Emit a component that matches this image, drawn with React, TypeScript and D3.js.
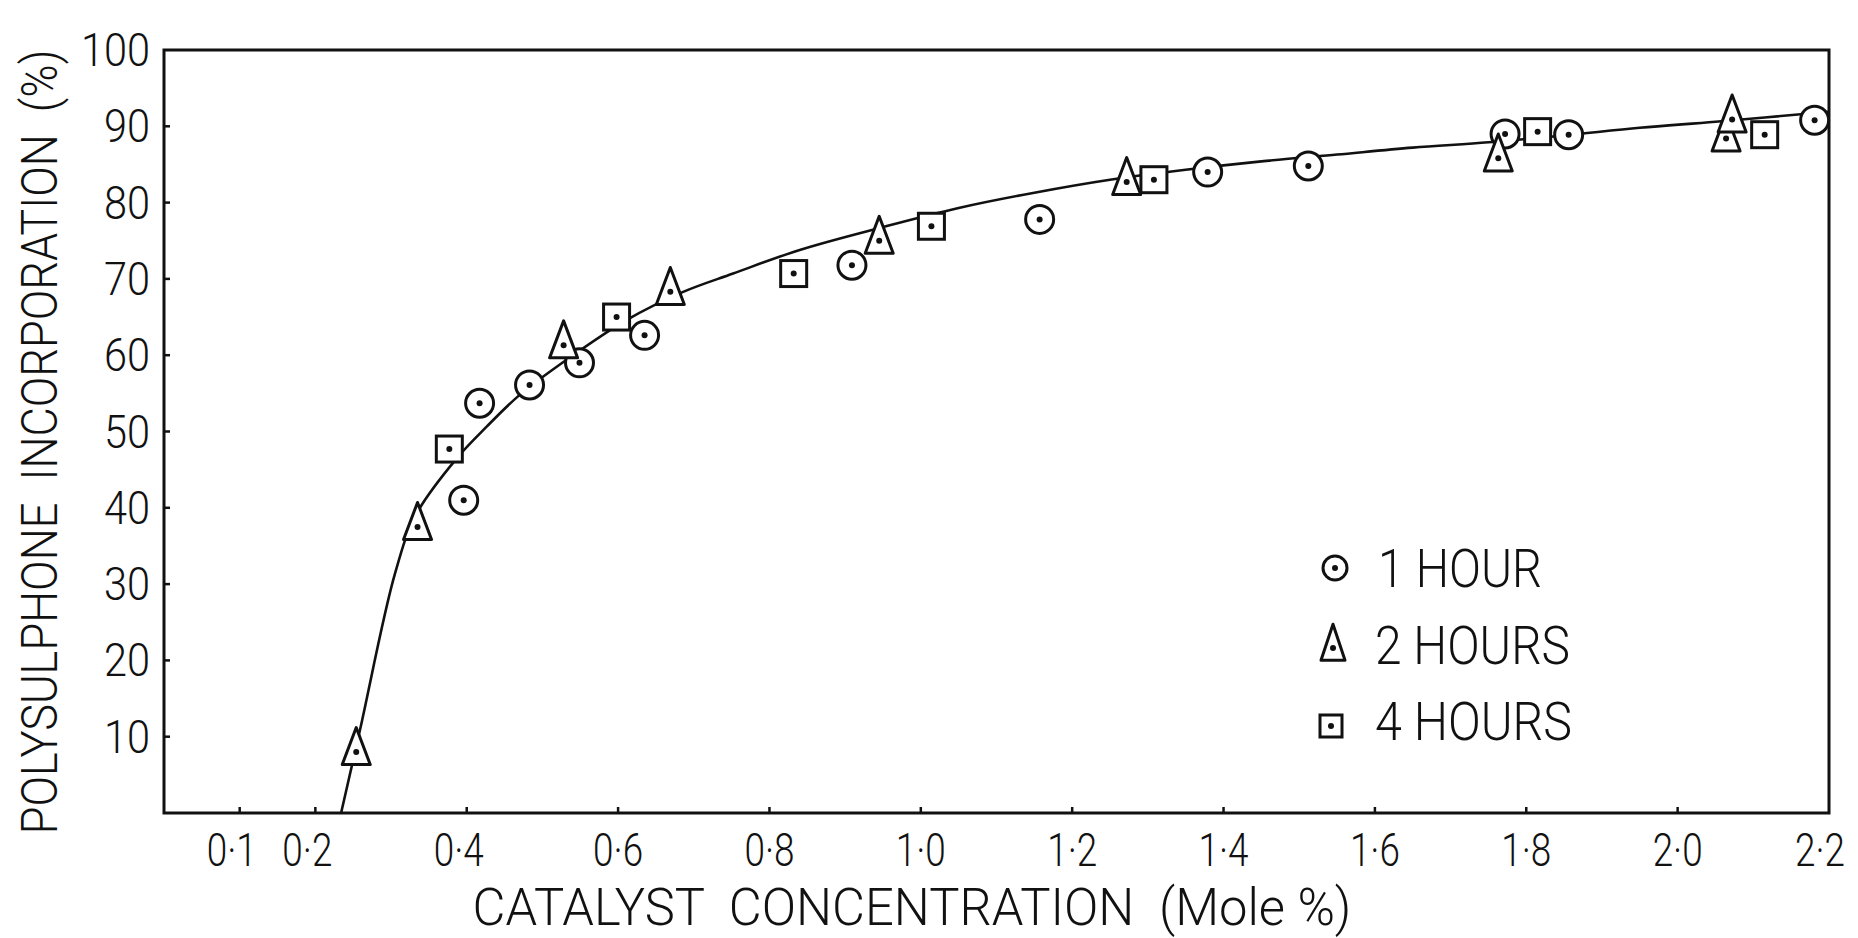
import { useEffect, useRef } from "react";
import * as d3 from "d3";

// 1 hour runs (circles)
const oneHourX = [0.396, 0.417, 0.483, 0.549, 0.635, 0.909, 1.157, 1.379, 1.512, 1.772, 1.856, 2.181];
const oneHourY = [41.0, 53.7, 56.1, 59.0, 62.6, 71.8, 77.8, 84.0, 84.8, 89.0, 88.9, 90.8];

// 2 hour runs (triangles)
const twoHoursX = [0.254, 0.335, 0.528, 0.669, 0.945, 1.272, 1.763, 2.064, 2.072];
const twoHoursY = [8.0, 37.5, 61.3, 68.3, 75.0, 82.7, 85.8, 88.4, 90.9];

// 4 hour runs (squares)
const fourHoursX = [0.377, 0.598, 0.832, 1.014, 1.308, 1.815, 2.115];
const fourHoursY = [47.7, 65.0, 70.7, 76.9, 83.0, 89.3, 88.9];

// hand drawn curve through the points
const curveX = [0.234, 0.259, 0.305, 0.333, 0.387, 0.426, 0.47, 0.532, 0.611, 0.686, 0.752, 0.84, 0.95, 1.05, 1.15, 1.25, 1.35, 1.45, 1.55, 1.65, 1.75, 1.85, 1.95, 2.05, 2.2];
const curveY = [0, 10.9, 31.3, 39.1, 46.5, 50.6, 54.8, 59.4, 64.6, 68.3, 70.7, 73.8, 76.8, 79.3, 81.3, 83, 84.3, 85.4, 86.3, 87.2, 87.9, 88.8, 89.8, 90.6, 91.9];

const xTicks = [0.1, 0.2, 0.4, 0.6, 0.8, 1.0, 1.2, 1.4, 1.6, 1.8, 2.0];
const xLabels = [0.1, 0.2, 0.4, 0.6, 0.8, 1.0, 1.2, 1.4, 1.6, 1.8, 2.0, 2.2];
const yTicks = [10, 20, 30, 40, 50, 60, 70, 80, 90];
const yLabels = [10, 20, 30, 40, 50, 60, 70, 80, 90, 100];

const legendLabels = ["1 HOUR", "2 HOURS", "4 HOURS"];

const W = 1858;
const H = 938;
const FONT = "Roboto, 'Liberation Sans', sans-serif";
const INK = "#111";

type Pt = { x: number; y: number };

// squeeze a text horizontally to a target width (the lettering is narrow)
function fit(sel: d3.Selection<SVGTextElement, any, any, any>, target: (d: any, i: number) => number, pre = "") {
  sel.each(function (d, i) {
    const el = this as SVGTextElement;
    const w = el.getComputedTextLength() || 1;
    const k = target(d, i) / w;
    const tx = +(el.getAttribute("x") || 0);
    const ty = +(el.getAttribute("y") || 0);
    el.setAttribute("x", "0");
    el.setAttribute("y", "0");
    el.setAttribute("transform", `${pre} translate(${tx},${ty}) scale(${k},1)`);
  });
}

export default function App() {
  const svgRef = useRef<SVGSVGElement | null>(null);

  useEffect(() => {
    if (!svgRef.current) return;
    const svg = d3.select(svgRef.current);
    svg.selectAll("*").remove();

    const x = d3.scaleLinear().domain([0, 2.2]).range([164, 1829]);
    const y = d3.scaleLinear().domain([0, 100]).range([813, 50]);
    const fmt = (v: number) => d3.format(".1f")(v).replace(".", "\u00b7");

    svg.append("rect").attr("width", W).attr("height", H).attr("fill", "#fff");

    const txt = (sel: d3.Selection<SVGTextElement, any, any, any>, size: number) =>
      sel.attr("font-family", FONT).attr("font-weight", 300).attr("font-size", size).attr("fill", INK);

    // fitted curve
    const pts: Pt[] = curveX.map((v, i) => ({ x: v, y: curveY[i] }));
    const line = d3.line<Pt>()
      .x(d => x(d.x))
      .y(d => y(d.y))
      .curve(d3.curveCatmullRom.alpha(0.5));
    svg.append("path")
      .datum(pts)
      .attr("fill", "none")
      .attr("stroke", INK)
      .attr("stroke-width", 2.6)
      .attr("d", line);

    // frame
    svg.append("rect")
      .attr("x", x(0)).attr("y", y(100))
      .attr("width", x(2.2) - x(0)).attr("height", y(0) - y(100))
      .attr("fill", "none").attr("stroke", INK).attr("stroke-width", 3);

    // ticks (small inward notches)
    svg.selectAll(".xt").data(xTicks).enter().append("line")
      .attr("x1", d => x(d)).attr("x2", d => x(d))
      .attr("y1", y(0)).attr("y2", y(0) - 6)
      .attr("stroke", INK).attr("stroke-width", 2.5);
    svg.selectAll(".yt").data(yTicks).enter().append("line")
      .attr("x1", x(0)).attr("x2", x(0) + 6)
      .attr("y1", d => y(d)).attr("y2", d => y(d))
      .attr("stroke", INK).attr("stroke-width", 2.5);

    // tick labels (first ones sit a little left of their ticks)
    const xl = txt(svg.selectAll<SVGTextElement, number>(".xl").data(xLabels).enter().append("text"), 47)
      .attr("x", d => Math.min(x(d) - (d < 0.5 ? 8 : 0), 1820))
      .attr("y", 866)
      .attr("text-anchor", "middle")
      .text(d => fmt(d));
    fit(xl, () => 50);
    const yl = txt(svg.selectAll<SVGTextElement, number>(".yl").data(yLabels).enter().append("text"), 46)
      .attr("x", 150)
      .attr("y", d => y(d) + 16)
      .attr("text-anchor", "end")
      .text(d => String(d));
    fit(yl, d => String(d).length * 23);

    // axis titles
    const xt = txt(svg.append("text"), 52)
      .attr("x", 912).attr("y", 925)
      .attr("text-anchor", "middle")
      .attr("xml:space", "preserve")
      .text("CATALYST  CONCENTRATION  (Mole %)");
    fit(xt, () => 879);
    const yt = txt(svg.append("text"), 50)
      .attr("text-anchor", "middle")
      .attr("xml:space", "preserve")
      .text("POLYSULPHONE  INCORPORATION  (%)");
    fit(yt, () => 785, "translate(57,442) rotate(-90)");

    // marker drawers
    const g = svg.append("g").attr("fill", "#fff").attr("stroke", INK).attr("stroke-width", 3);
    const circle = (cx: number, cy: number, r: number) => {
      g.append("circle").attr("cx", cx).attr("cy", cy).attr("r", r);
    };
    const tri = (cx: number, cy: number, w: number, h: number) => {
      const top = cy - h * 0.66;
      const bot = cy + h * 0.34;
      g.append("path").attr("d", `M${cx},${top}L${cx + w / 2},${bot}L${cx - w / 2},${bot}Z`)
        .attr("stroke-linejoin", "round");
    };
    const sq = (cx: number, cy: number, s: number) => {
      g.append("rect").attr("x", cx - s / 2).attr("y", cy - s / 2).attr("width", s).attr("height", s);
    };
    const dot = (cx: number, cy: number) => {
      svg.append("circle").attr("cx", cx).attr("cy", cy).attr("r", 3).attr("fill", INK);
    };

    oneHourX.forEach((v, i) => { circle(x(v), y(oneHourY[i]), 14); dot(x(v), y(oneHourY[i])); });
    twoHoursX.forEach((v, i) => { tri(x(v), y(twoHoursY[i]), 28, 37); dot(x(v), y(twoHoursY[i])); });
    fourHoursX.forEach((v, i) => { sq(x(v), y(fourHoursY[i]), 26); dot(x(v), y(fourHoursY[i])); });

    // legend
    const legY = [568, 645, 721];
    const legW = [164, 195, 197];
    circle(1335, legY[0], 12); dot(1335, legY[0]);
    tri(1333, legY[1] + 3, 24, 36); dot(1333, legY[1] + 3);
    sq(1331, legY[2] + 5, 22); dot(1331, legY[2] + 5);
    const lg = txt(svg.selectAll<SVGTextElement, string>(".lg").data(legendLabels).enter().append("text"), 53)
      .attr("x", (_d, i) => (i === 0 ? 1378 : 1375))
      .attr("y", (_d, i) => legY[i] + 19)
      .text(d => d);
    fit(lg, (_d, i) => legW[i]);
  }, []);

  return (
    <div style={{ position: "fixed", left: 0, top: 0, width: W, height: H, background: "#fff" }}>
      <svg ref={svgRef} width={W} height={H} viewBox={`0 0 ${W} ${H}`}></svg>
    </div>
  );
}
